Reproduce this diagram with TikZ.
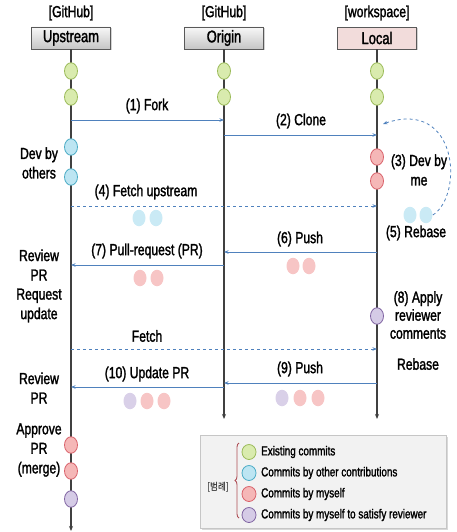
\documentclass[tikz,border=0pt]{standalone}
\usepackage{fontspec}
\setmainfont[FakeStretch=0.76,FakeBold=1.6]{Liberation Sans}
\newfontfamily\krfont[FakeStretch=0.85]{Noto Sans CJK KR}
\usetikzlibrary{shapes.geometric,arrows.meta,shadows,decorations.pathreplacing}
\definecolor{msgblue}{HTML}{4F81BD}
\definecolor{lifegray}{HTML}{404040}
\definecolor{gfill}{HTML}{D9EBAE}\definecolor{gdraw}{HTML}{9BBB59}
\definecolor{bfill}{HTML}{BDE5F2}\definecolor{bdraw}{HTML}{4BACC6}
\definecolor{rfill}{HTML}{F5B7B7}\definecolor{rdraw}{HTML}{D9626B}
\definecolor{pfill}{HTML}{D5CBE6}\definecolor{pdraw}{HTML}{8064A2}
\definecolor{localfill}{HTML}{F2DCDB}
\begin{document}
\begin{tikzpicture}[x=1pt,y=-1pt,
  lbl/.style={font=\fontsize{16}{19.5}\selectfont, align=center, inner sep=0pt},
  hdr/.style={draw=gray!70!black, minimum width=79pt, minimum height=22pt, inner sep=0pt,
     font=\fontsize{17}{18}\selectfont, drop shadow={opacity=0.35, shadow xshift=1.2pt, shadow yshift=-1.2pt}},
  life/.style={draw=lifegray, line width=1.3pt, -{Stealth[length=5pt,width=4pt]}},
  msg/.style={draw=msgblue, line width=0.8pt, -{Stealth[length=4.5pt,width=3.5pt]}},
  dmsg/.style={msg, dashed},
  commitnode/.style={ellipse, minimum width=13pt, minimum height=16.5pt, inner sep=0pt, line width=0.8pt},
  gc/.style={commitnode, fill=gfill, draw=gdraw},
  bc/.style={commitnode, fill=bfill, draw=bdraw},
  rc/.style={commitnode, fill=rfill, draw=rdraw},
  pc/.style={commitnode, fill=pfill, draw=pdraw},
  sgc/.style={commitnode, fill=bfill!80, draw=none},
  src/.style={commitnode, fill=rfill!80, draw=none},
  spc/.style={commitnode, fill=pfill!90, draw=none},
  leg/.style={font=\fontsize{13}{14}\selectfont, anchor=west, inner sep=0pt}
]
\useasboundingbox (0,0) rectangle (456,532);
% headers
\node[lbl] (upg) at (71,13) {[GitHub]};
\node[lbl] (org) at (224,13) {[GitHub]};
\node[lbl] (lcg) at (377,13) {[workspace]};
\node[hdr, top color=gray!6, bottom color=gray!45] (up) at (71,38) {Upstream};
\node[hdr, top color=gray!6, bottom color=gray!45] (or) at (224,38) {Origin};
\node[hdr, fill=localfill] (lc) at (377,38) {Local};
% lifelines
\coordinate (upend) at (71,531);
\coordinate (orend) at (224,419);
\coordinate (lcend) at (377,419);
\draw[life] (up) -- (upend);
\draw[life] (or) -- (orend);
\draw[life] (lc) -- (lcend);
% messages
\coordinate (a1) at (71,120); \coordinate (b1) at (224,120);
\draw[msg] (a1) -- (b1);
\node[lbl] (t1) at (147,106) {(1) Fork};
\coordinate (a2) at (224,135); \coordinate (b2) at (377,135);
\draw[msg] (a2) -- (b2);
\node[lbl] (t2) at (301,121) {(2) Clone};
\coordinate (a4) at (71,206); \coordinate (b4) at (377,206);
\draw[dmsg] (a4) -- (b4);
\node[lbl] (t4) at (146,192) {(4) Fetch upstream};
\coordinate (a6) at (377,252); \coordinate (b6) at (224,252);
\draw[msg] (a6) -- (b6);
\node[lbl] (t6) at (300,239) {(6) Push};
\coordinate (a7) at (224,265); \coordinate (b7) at (71,265);
\draw[msg] (a7) -- (b7);
\node[lbl] (t7) at (147,251) {(7) Pull-request (PR)};
\coordinate (af) at (71,349); \coordinate (bf) at (377,349);
\draw[dmsg] (af) -- (bf);
\node[lbl] (tf) at (147,336) {Fetch};
\coordinate (a9) at (377,383); \coordinate (b9) at (224,383);
\draw[msg] (a9) -- (b9);
\node[lbl] (t9) at (300,369) {(9) Push};
\coordinate (a10) at (224,387); \coordinate (b10) at (71,387);
\draw[msg] (a10) -- (b10);
\node[lbl] (t10) at (147,374) {(10) Update PR};
% commits on lifelines
\node[gc] (ug1) at (71,71) {}; \node[gc] (ug2) at (71,97) {};
\node[gc] (og1) at (224,71) {}; \node[gc] (og2) at (224,97) {};
\node[gc] (lg1) at (377,71) {}; \node[gc] (lg2) at (377,97) {};
\node[bc] (ub1) at (71,147) {}; \node[bc] (ub2) at (71,177) {};
\node[rc] (lr1) at (377,157) {}; \node[rc] (lr2) at (377,181) {};
\node[pc] (lp1) at (377,316) {};
\node[rc] (ur1) at (71,445) {}; \node[rc] (ur2) at (71,471) {};
\node[pc] (up1) at (71,499) {};
% moving commits
\node[sgc] (m4a) at (139,218) {}; \node[sgc] (m4b) at (156,218) {};
\node[sgc] (m5a) at (410,215) {}; \node[sgc] (m5b) at (426,215) {};
\node[src] (m6a) at (293,266) {}; \node[src] (m6b) at (309,266) {};
\node[src] (m7a) at (140,278) {}; \node[src] (m7b) at (157,278) {};
\node[spc] (m9a) at (282,398) {}; \node[src] (m9b) at (300,398) {}; \node[src] (m9c) at (318,398) {};
\node[spc] (m10a) at (130,401) {}; \node[src] (m10b) at (147,401) {}; \node[src] (m10c) at (164,401) {};
% rebase curve
\coordinate (rb) at (383,124);
\draw[dmsg] (m5b.east) .. controls (464,195) and (458,98) .. (rb);
% side labels
\node[lbl] (dvo) at (39,163) {Dev by\\others};
\node[lbl] (dvm) at (419,170) {(3) Dev by\\me};
\node[lbl] (rbs) at (416,233) {(5) Rebase};
\node[lbl] (rv1) at (39,265) {Review\\PR};
\node[lbl] (rqu) at (39,305.5) {Request\\update};
\node[lbl, font=\fontsize{16}{18}\selectfont] (apl) at (418,315) {(8) Apply\\reviewer\\comments};
\node[lbl] (rb2) at (418,364) {Rebase};
\node[lbl] (rv2) at (39,388) {Review\\PR};
\node[lbl] (apr) at (39,450) {Approve\\PR\\(merge)};
% legend
\node[draw=gray!45, fill=gray!10, minimum width=246pt, minimum height=93pt,
  drop shadow={opacity=0.3, shadow xshift=1.5pt, shadow yshift=-1.5pt}] (legbox) at (323,481.5) {};
\node[gc, minimum width=14pt, minimum height=15pt] (lgg) at (249,452) {};
\node[bc, minimum width=14pt, minimum height=15pt] (lgb) at (249,473) {};
\node[rc, minimum width=14pt, minimum height=15pt] (lgr) at (249,494) {};
\node[pc, minimum width=14pt, minimum height=15pt] (lgp) at (249,515) {};
\node[leg] (lt1) at (261,452) {Existing commits};
\node[leg] (lt2) at (261,473) {Commits by other contributions};
\node[leg] (lt3) at (261,494) {Commits by myself};
\node[leg] (lt4) at (261,515) {Commits by myself to satisfy reviewer};
\coordinate (br1) at (239,518); \coordinate (br2) at (239,443);
\draw[rdraw!80!black, line width=0.9pt, decorate, decoration={brace, amplitude=4pt}] (br1) -- (br2);
\node[font=\krfont\fontsize{10}{11}\selectfont, inner sep=0pt] (bl) at (218,487) {[범례]};
\end{tikzpicture}
\end{document}
